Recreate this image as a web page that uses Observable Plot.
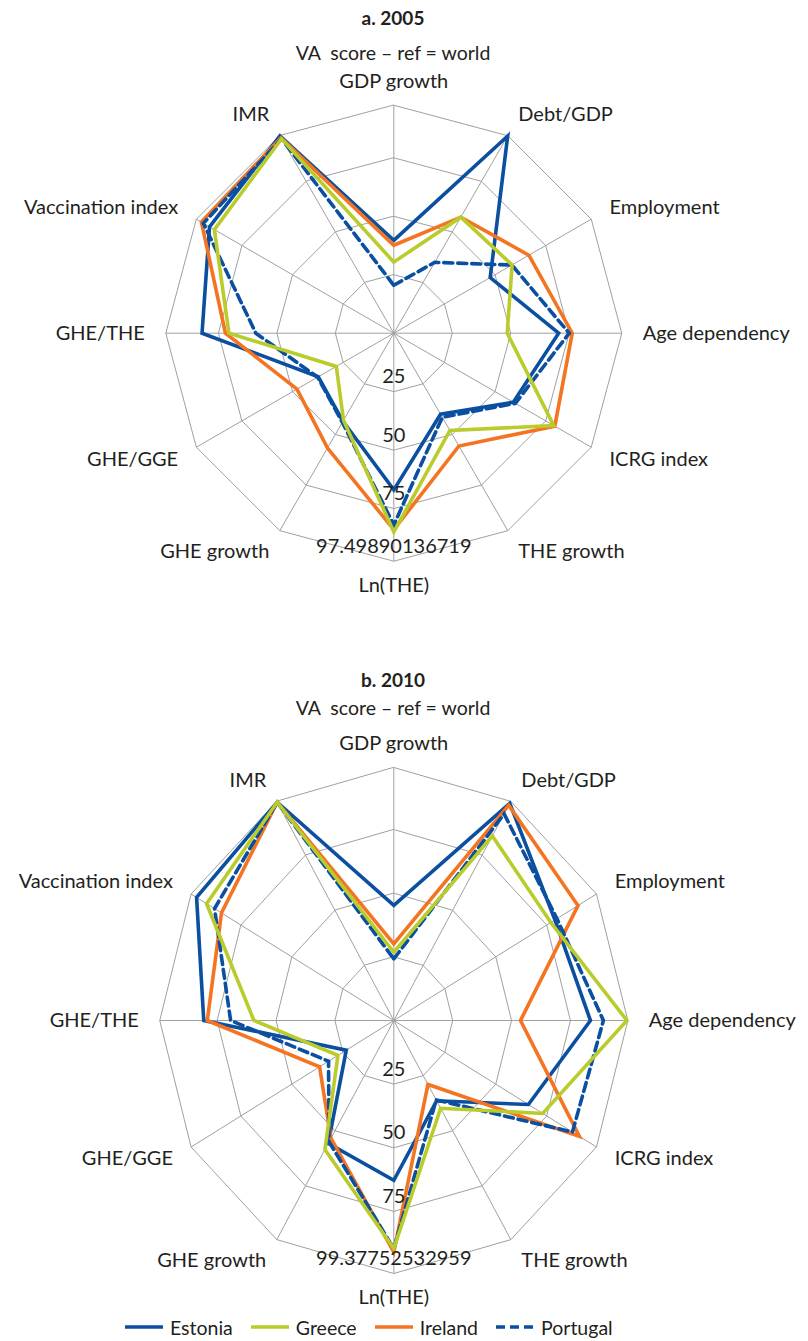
<!DOCTYPE html>
<html><head><meta charset="utf-8">
<script src="https://cdn.jsdelivr.net/npm/d3@7"></script>
<script src="https://cdn.jsdelivr.net/npm/@observablehq/plot@0.6"></script>
<style>
body{margin:0;background:#fff;font-family:Lato,"Open Sans",sans-serif;color:#231f20;}
#page{position:relative;width:808px;height:1341px;overflow:hidden;}
.t{position:absolute;left:0;width:786px;text-align:center;font-size:19.5px;line-height:24px;white-space:pre;}
.b{font-weight:bold;font-size:19px;}
.chart{position:absolute;left:0;}
#legend{position:absolute;left:125px;top:1315px;height:24px;display:flex;align-items:center;font-size:19.5px;}
#legend .it{display:flex;align-items:center;margin-right:18px;}
#legend svg{margin-right:7px;}
</style></head><body><div id="page">
<div class="t b" style="top:6px">a. 2005</div>
<div class="t" style="top:41px">VA  score – ref = world</div>
<div class="chart" id="ca" style="top:60px"></div>
<div class="t b" style="top:668px">b. 2010</div>
<div class="t" style="top:696px">VA  score – ref = world</div>
<div class="chart" id="cb" style="top:720px"></div>
<div id="legend"></div>
</div>
<script>
const axes = ["GDP growth","Debt/GDP","Employment","Age dependency","ICRG index","THE growth","Ln(THE)","GHE growth","GHE/GGE","GHE/THE","Vaccination index","IMR"];
const countries = ["Estonia","Greece","Ireland","Portugal"];
const countryColors = ["#0a4fa0","#b9cc2b","#f47421","#0a4fa0"];
const countryDashed = [false,false,false,true];

const ticks2005 = [25,50,75,97.49890136719];
const tickLabels2005 = ["25","50","75","97.49890136719"];
const ticks2010 = [25,50,75,99.37752532959];
const tickLabels2010 = ["25","50","75","99.37752532959"];

// 2005 values, in axis order
const estonia2005  = [39.7, 97.4, 47.6, 70.5, 59.0, 40.0, 67.0, 43.5, 37.3, 82.0, 91.0, 97.4];
const greece2005   = [30.4, 57.3, 58.4, 48.5, 79.0, 48.0, 85.0, 43.0, 28.4, 70.5, 88.6, 96.0];
const ireland2005  = [37.6, 57.3, 66.7, 76.3, 79.5, 55.7, 84.0, 56.7, 47.8, 72.0, 95.0, 96.5];
const portugal2005 = [20.5, 35.0, 58.3, 75.0, 60.0, 41.5, 82.0, 44.0, 37.6, 59.0, 94.0, 96.0];

// 2010 values
const estonia2010  = [45.2, 98.5, 79.0, 83.5, 66.0, 36.4, 62.8, 55.7, 23.3, 80.7, 96.7, 99.0];
const greece2010   = [26.8, 83.7, 77.0, 99.0, 73.0, 39.8, 89.6, 58.5, 27.4, 59.4, 91.8, 99.0];
const ireland2010  = [30.1, 97.6, 90.3, 53.8, 91.0, 29.0, 91.0, 53.4, 36.4, 79.2, 84.5, 99.0];
const portugal2010 = [24.2, 93.7, 80.0, 89.0, 87.6, 36.0, 89.6, 55.0, 32.0, 69.3, 87.9, 99.0];

const drawOrder = ["Estonia","Ireland","Portugal","Greece"];

function radar({series, ticks, tickText, kx, ky, cx, cy, top, height}) {
  const width = 808;
  const max = ticks[ticks.length - 1];
  const ang = i => i * Math.PI / 6;
  const toXY = (v, i) => ({x: v * Math.sin(ang(i)), y: v * Math.cos(ang(i))});
  const ringRows = ticks.flatMap(t => axes.map((a, i) => ({level: t, ...toXY(t, i)})));
  const spokeRows = axes.map((a, i) => ({axis: a, ...toXY(max, i)}));
  const pad = 21;
  const labelRows = axes.map((a, i) => {
    const s = Math.sin(ang(i)), c = Math.cos(ang(i));
    return {name: a, x: max * s + pad * s / kx, y: max * c + (pad + 3) * c / ky,
      anchor: s > 0.01 ? "start" : s < -0.01 ? "end" : "middle"};
  });
  const tickRows = ticks.map((t, j) => ({label: tickText[j], ...toXY(t, 6)}));
  const grid = {stroke: "#a0a0a0", strokeWidth: 1};
  const marks = [
    Plot.line(ringRows, {x: "x", y: "y", z: "level", curve: "linear-closed", ...grid}),
    Plot.link(spokeRows, {x1: () => 0, y1: () => 0, x2: "x", y2: "y", ...grid})
  ];
  for (const c of drawOrder) {
    const k = countries.indexOf(c);
    const rows = series[c].map((v, i) => ({country: c, axis: axes[i], value: v, ...toXY(v, i)}));
    const opts = {x: "x", y: "y", curve: "linear-closed", stroke: countryColors[k], strokeWidth: 3.6,
      strokeLinejoin: "miter", strokeMiterlimit: 10};
    if (countryDashed[k]) opts.strokeDasharray = "9,5";
    marks.push(Plot.line(rows, opts));
  }
  for (const anchor of ["start", "middle", "end"]) {
    marks.push(Plot.text(labelRows.filter(d => d.anchor === anchor),
      {x: "x", y: "y", text: "name", textAnchor: anchor, lineAnchor: "middle", fontSize: 20, fill: "#231f20"}));
  }
  marks.push(Plot.text(tickRows, {x: "x", y: "y", text: "label", textAnchor: "middle", lineAnchor: "middle", dy: -15, fontSize: 20, fill: "#231f20"}));
  return Plot.plot({
    width, height, margin: 0,
    style: {fontFamily: "Lato, 'Open Sans', sans-serif", fontSize: "20px", background: "transparent", overflow: "visible"},
    x: {domain: [-cx / kx, (width - cx) / kx], axis: null},
    y: {domain: [(cy - top - height) / ky, (cy - top) / ky], axis: null},
    marks
  });
}

document.getElementById("ca").appendChild(radar({
  series: {Estonia: estonia2005, Greece: greece2005, Ireland: ireland2005, Portugal: portugal2005},
  ticks: ticks2005, tickText: tickLabels2005,
  kx: 2.3385, ky: 2.3385, cx: 393.3, cy: 332.7, top: 60, height: 560
}));
document.getElementById("cb").appendChild(radar({
  series: {Estonia: estonia2010, Greece: greece2010, Ireland: ireland2010, Portugal: portugal2010},
  ticks: ticks2010, tickText: tickLabels2010,
  kx: 2.355, ky: 2.546, cx: 393.3, cy: 1020, top: 720, height: 595
}));

const legend = document.getElementById("legend");
countries.forEach((c, k) => {
  const it = document.createElement("div");
  it.className = "it";
  it.innerHTML = `<svg width="38" height="10"><line x1="0" y1="5" x2="38" y2="5" stroke="${countryColors[k]}" stroke-width="3.6"${countryDashed[k] ? ' stroke-dasharray="9,5"' : ''}/></svg><span>${c}</span>`;
  legend.appendChild(it);
});
</script>
</body></html>
